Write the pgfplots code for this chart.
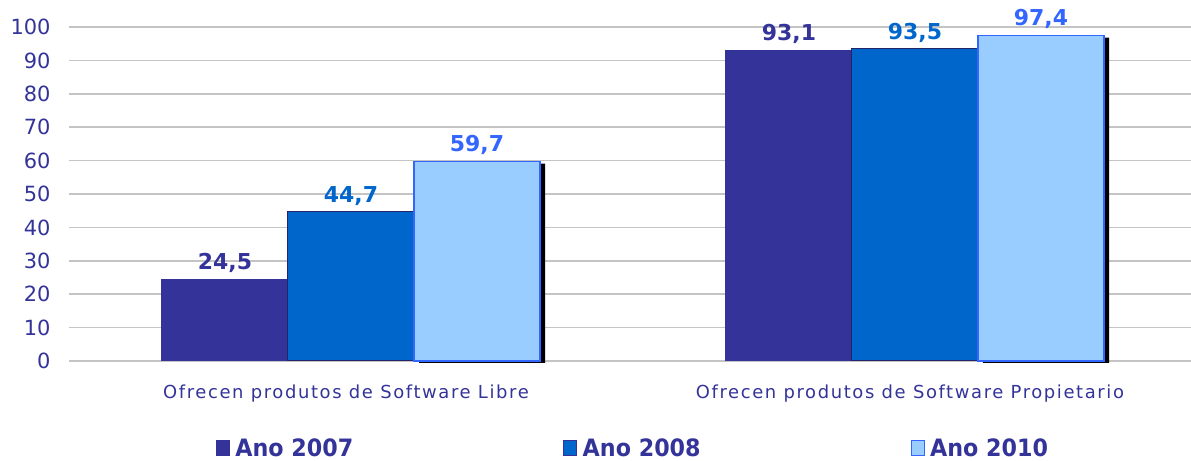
\documentclass[border=0pt]{standalone}
\usepackage{pgfplots}
\pgfplotsset{compat=1.18}
\usepackage{fontspec}
\setmainfont{DejaVu Sans}
\newfontfamily\catfont{DejaVu Sans}[LetterSpace=9]
\newfontfamily\legfont{DejaVu Sans Bold}[FakeStretch=0.93]
\definecolor{c07}{HTML}{333399}
\definecolor{c08}{HTML}{0066CC}
\definecolor{c10}{HTML}{99CCFF}
\definecolor{c10e}{HTML}{3366FF}
\definecolor{gridc}{HTML}{C4C4C4}
\begin{document}
\begin{tikzpicture}[x=1bp,y=1bp]
\useasboundingbox (0,0) rectangle (1191,461);
\begin{axis}[
  at={(69bp,100bp)}, anchor=south west,
  scale only axis, width=1128bp, height=334bp,
  xmin=-0.5, xmax=1.5, ymin=0, ymax=100,
  axis line style={draw=none},
  major tick length=0pt,
  ymajorgrids, grid style={gridc, line width=1.5bp},
  ytick={0,10,...,100},
  xtick={0,1},
  xticklabels={Ofrecen produtos de Software Libre, Ofrecen produtos de Software Propietario},
  ybar=0pt, bar width=126bp,
  clip=false,
  /pgf/number format/assume math mode=true,
  yticklabel style={font=\fontsize{21}{23}\selectfont, text=c07, xshift=-15bp},
  xticklabel style={font=\catfont\fontsize{18}{20}\selectfont, text=c07, yshift=-20bp, xshift=-5bp},
  nodes near coords={\pgfmathprintnumber[fixed,fixed zerofill,precision=1,use comma]{\pgfplotspointmeta}},
  every node near coord/.append style={font=\bfseries\fontsize{22}{24}\selectfont, inner sep=6bp},
  legend style={at={(axis description cs:0.5,-0.296)}, anchor=south, draw=none, fill=none,
    inner sep=0pt, outer sep=0pt, legend columns=3,
    font=\legfont\fontsize{24}{26}\selectfont, text=c07,
    /tikz/every even column/.append style={column sep=208bp}},
  legend cell align=left,
]
\addplot[forget plot, bar shift=-126bp, fill=c07, draw=c07, line width=1bp, every node near coord/.append style={text=c07}]
  coordinates {(0,24.5) (1,93.1)};
\addplot[forget plot, bar shift=0bp, fill=c08, draw=c07!70!black, line width=1bp, every node near coord/.append style={text=c08}]
  coordinates {(0,44.7) (1,93.5)};
\addplot[forget plot, bar shift=126bp, fill=c10, draw=c10e, line width=1.5bp,
  preaction={fill=black, draw=none, transform canvas={xshift=5bp, yshift=-2bp}},
  every node near coord/.append style={text=c10e}]
  coordinates {(0,59.7) (1,97.4)};
\addlegendimage{legend image code/.code={\draw[fill=c07, draw=c07] (0bp,-7bp) rectangle (13bp,8bp); \path (17bp,0bp);}}
\addlegendentry{Ano 2007}
\addlegendimage{legend image code/.code={\draw[fill=c08, draw=c07] (0bp,-7bp) rectangle (13bp,8bp); \path (17bp,0bp);}}
\addlegendentry{Ano 2008}
\addlegendimage{legend image code/.code={\draw[fill=c10, draw=c10e] (0bp,-7bp) rectangle (13bp,8bp); \path (17bp,0bp);}}
\addlegendentry{Ano 2010}
\end{axis}
\end{tikzpicture}
\end{document}
